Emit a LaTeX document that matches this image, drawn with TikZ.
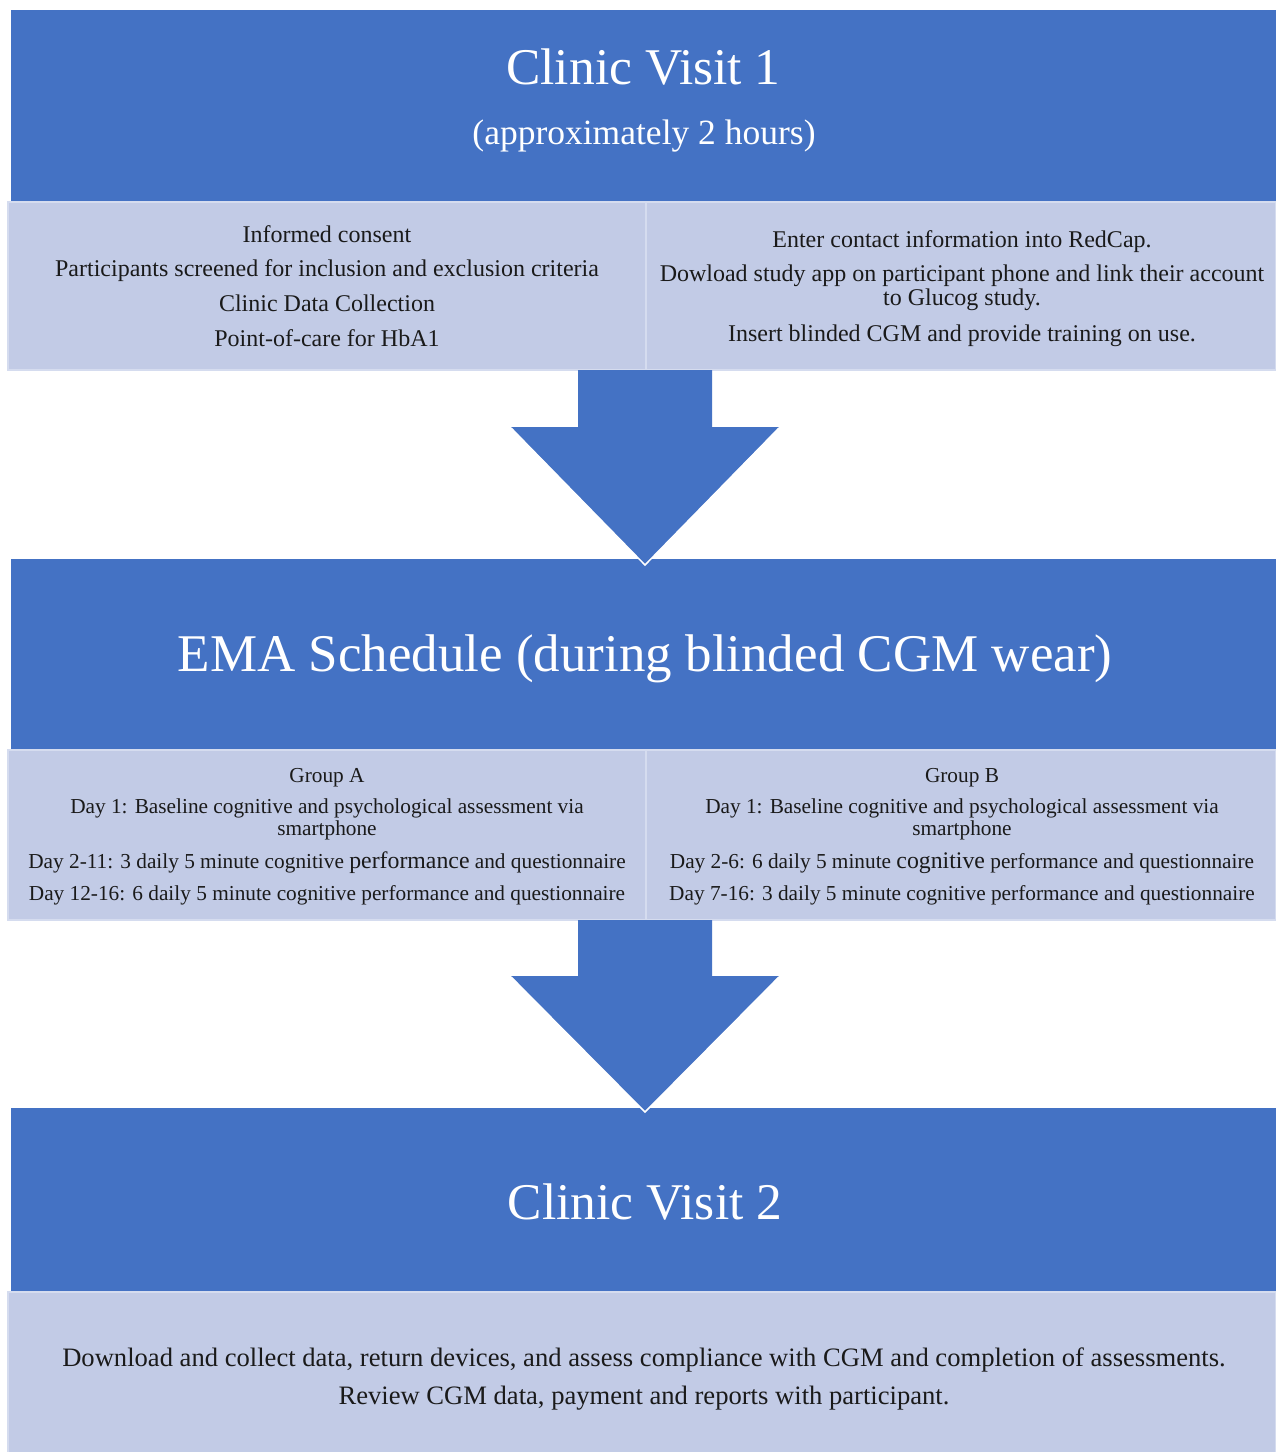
\documentclass[tikz,border=0pt]{standalone}
\usepackage{fontspec}
\setmainfont{Liberation Serif}
\usetikzlibrary{calc}
\definecolor{hdr}{HTML}{4472C4}
\definecolor{pnl}{HTML}{C2CBE6}
\definecolor{pedge}{HTML}{D5DCEF}
\definecolor{ink}{HTML}{1A1A1A}
\newcommand{\bigw}[1]{{\fontsize{23.8}{22}\selectfont #1}}
\begin{document}
\begin{tikzpicture}[x=1pt,y=-1pt,
  hdrbox/.style={fill=hdr, inner sep=0pt, outer sep=0pt, anchor=north west},
  pnlbox/.style={fill=pnl, draw=pedge, line width=1.5pt, inner sep=0pt, outer sep=0pt, anchor=north west},
  titletext/.style={text=white, inner sep=0pt, anchor=base},
  bodytext/.style={text=ink, inner sep=0pt, align=center, anchor=center},
  blockarrow/.style={fill=hdr},
  tipedge/.style={draw=white, line width=1.5pt}]
\useasboundingbox[fill=white] (0,0) rectangle (1276,1452);

% ---- Clinic Visit 1 ----
\node[hdrbox, minimum width=1265pt, minimum height=192pt] (h1) at (11,10) {};
\node[pnlbox, minimum width=638pt, minimum height=168pt] (p1a) at (8,202) {};
\node[pnlbox, minimum width=630pt, minimum height=168pt] (p1b) at (646,202) {};
\node[titletext, font=\fontsize{51.5}{60}\selectfont] (t1) at (643.5,84) {Clinic Visit 1};
\node[titletext, font=\fontsize{35.5}{40}\selectfont] (t1s) at (644,144) {(approximately 2 hours)};
\node[bodytext, font=\fontsize{24}{24}\selectfont] (x1a) at (p1a.center) {Informed consent\\[10.7pt]
Participants screened for inclusion and exclusion criteria\\[10.7pt]
Clinic Data Collection\\[10.7pt]
Point-of-care for HbA1};
\node[bodytext, font=\fontsize{24}{24}\selectfont] (x1b) at ($(p1b.center)+(1,3)$) {Enter contact information into RedCap.\\[10pt]
Dowload study app on participant phone and link their account\\
to Glucog study.\\[12pt]
Insert blinded CGM and provide training on use.};

% ---- EMA Schedule ----
\node[hdrbox, minimum width=1265pt, minimum height=191pt] (h2) at (11,559) {};
\node[pnlbox, minimum width=638pt, minimum height=170pt] (p2a) at (8,750) {};
\node[pnlbox, minimum width=630pt, minimum height=170pt] (p2b) at (646,750) {};
\node[titletext, font=\fontsize{53}{60}\selectfont] (t2) at (645,671) {EMA Schedule (during blinded CGM wear)};
\node[bodytext, font=\fontsize{21.3}{22}\selectfont] (x2a) at ($(p2a.center)+(0,2)$) {Group A\\[9pt]
Day 1: Baseline cognitive and psychological assessment via\\
smartphone\\[11pt]
Day 2-11: 3 daily 5 minute cognitive \bigw{performance} and questionnaire\\[10pt]
Day 12-16: 6 daily 5 minute cognitive performance and questionnaire};
\node[bodytext, font=\fontsize{21.3}{22}\selectfont] (x2b) at ($(p2b.center)+(1,2)$) {Group B\\[9pt]
Day 1: Baseline cognitive and psychological assessment via\\
smartphone\\[11pt]
Day 2-6: 6 daily 5 minute \bigw{cognitive} performance and questionnaire\\[10pt]
Day 7-16: 3 daily 5 minute cognitive performance and questionnaire};

% ---- Clinic Visit 2 ----
\node[hdrbox, minimum width=1265pt, minimum height=184pt] (h3) at (11,1108) {};
\node[pnlbox, minimum width=1268pt, minimum height=162pt] (p3) at (8,1292) {};
\node[titletext, font=\fontsize{51.5}{60}\selectfont] (t3) at (645,1219) {Clinic Visit 2};
\node[bodytext, font=\fontsize{26.6}{38}\selectfont] (x3) at ($(p3.center)+(2,6)$) {Download and collect data, return devices, and assess compliance with CGM and completion of assessments.\\
Review CGM data, payment and reports with participant.};

% ---- block arrows ----
\fill[blockarrow] ([xshift=-68pt]p1a.south east) -- ++(134,0) -- ++(0,57)
  -- ++(67,0) coordinate (a1r) -- ++(-134,138) coordinate (a1tip) -- ++(-134,-138) coordinate (a1l)
  -- ++(67,0) -- cycle;
\draw[tipedge] ([yshift=-1pt]a1l) -- (a1tip) -- ([yshift=-1pt]a1r);

\fill[blockarrow] ([xshift=-68pt]p2a.south east) -- ++(134,0) -- ++(0,56)
  -- ++(67,0) coordinate (a2r) -- ++(-134,136) coordinate (a2tip) -- ++(-134,-136) coordinate (a2l)
  -- ++(67,0) -- cycle;
\draw[tipedge] ([yshift=-1pt]a2l) -- (a2tip) -- ([yshift=-1pt]a2r);
\end{tikzpicture}
\end{document}
